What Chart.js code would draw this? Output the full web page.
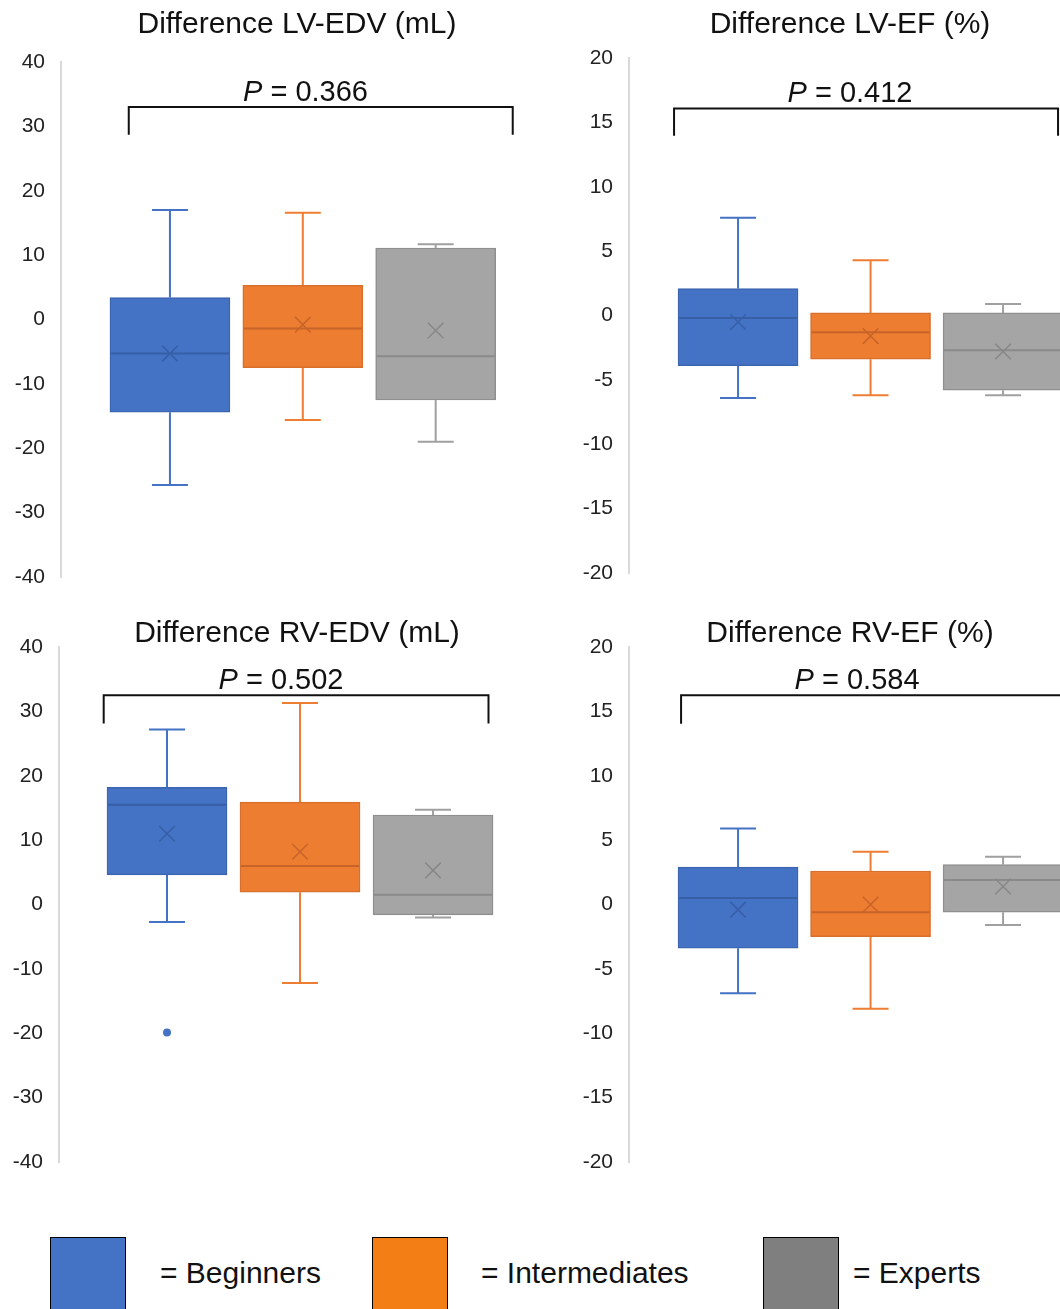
<!DOCTYPE html>
<html>
<head>
<meta charset="utf-8">
<script src="https://cdn.jsdelivr.net/npm/chart.js@4.4.1/dist/chart.umd.min.js"></script>
<style>
  html, body { margin: 0; padding: 0; background: #fff; overflow: hidden; }
  #page { position: relative; width: 1060px; height: 1309px; overflow: hidden; font-family: 'Liberation Sans', Arial, sans-serif; }
  #page canvas { position: absolute; }
  .key { position: absolute; top: 1237px; width: 74px; height: 90px; border: 1.5px solid #000; }
  .keyText { position: absolute; top: 1254px; font-size: 30px; line-height: 38px; color: #111; white-space: nowrap; }
</style>
</head>
<body>
<div id="page">
  <canvas id="lvEdv" width="530" height="607" style="left:0;top:0"></canvas>
  <canvas id="lvEf" width="600" height="603" style="left:530px;top:0"></canvas>
  <canvas id="rvEdv" width="530" height="607" style="left:0;top:585px"></canvas>
  <canvas id="rvEf" width="600" height="607" style="left:530px;top:585px"></canvas>

  <div class="key" style="left:50px;background:#4472C4"></div>
  <div class="keyText" style="left:160px">= Beginners</div>
  <div class="key" style="left:372px;background:#F37E16"></div>
  <div class="keyText" style="left:481px">= Intermediates</div>
  <div class="key" style="left:763px;background:#7F7F7F"></div>
  <div class="keyText" style="left:853px">= Experts</div>
</div>
<script>
const FONT = "'Liberation Sans', Arial, sans-serif"

// groups, drawn at x = 1, 2, 3
const groups = ['Beginners', 'Intermediates', 'Experts']
const groupX = [1, 2, 3]

// colours per group
const boxFill = ['#4472C4', '#ED7D31', '#A5A5A5']
const boxBorder = ['#3B65B0', '#D86F2B', '#8F8F8F']
const whiskerColor = ['#4472C4', '#ED7D31', '#A0A0A0']
const medianColor = ['#365FA6', '#C8642A', '#8A8A8A']
const meanColor = ['#365FA6', '#C8642A', '#878787']

// tick labels
const edvTicks = [-40, -30, -20, -10, 0, 10, 20, 30, 40]
const efTicks = [-20, -15, -10, -5, 0, 5, 10, 15, 20]

// Difference LV-EDV (mL)
const lvEdvMin = [-25.7, -15.6, -19.0]
const lvEdvQ1 = [-14.4, -7.5, -12.5]
const lvEdvMedian = [-5.3, -1.4, -5.7]
const lvEdvQ3 = [3.4, 5.3, 11.1]
const lvEdvMax = [17.0, 16.6, 11.7]
const lvEdvMean = [-5.3, -0.8, -1.7]

// Difference LV-EF (%)
const lvEfMin = [-6.4, -6.2, -6.2]
const lvEfQ1 = [-3.9, -3.4, -5.8]
const lvEfMedian = [-0.2, -1.3, -2.7]
const lvEfQ3 = [2.1, 0.2, 0.2]
const lvEfMax = [7.6, 4.3, 0.9]
const lvEfMean = [-0.5, -1.6, -2.8]

// Difference RV-EDV (mL)
const rvEdvMin = [-2.7, -12.2, -2.0]
const rvEdvQ1 = [4.6, 1.9, -1.6]
const rvEdvMedian = [15.5, 6.0, 1.5]
const rvEdvQ3 = [18.2, 15.9, 13.9]
const rvEdvMax = [27.2, 31.3, 14.7]
const rvEdvMean = [11.0, 8.2, 5.3]
const rvEdvOutlierGroup = [1]
const rvEdvOutlierValue = [-19.9]

// Difference RV-EF (%)
const rvEfMin = [-6.9, -8.1, -1.6]
const rvEfQ1 = [-3.4, -2.5, -0.6]
const rvEfMedian = [0.5, -0.6, 1.9]
const rvEfQ3 = [2.9, 2.6, 3.1]
const rvEfMax = [5.9, 4.1, 3.7]
const rvEfMean = [-0.4, 0.0, 1.4]

// extra drawing: whiskers, title, P value and bracket
function makeExtras(panel) {
  return {
    id: 'extras',
    beforeDatasetsDraw(chart) {
      const ctx = chart.ctx
      const x = chart.scales.x
      const y = chart.scales.y
      ctx.save()
      ctx.lineWidth = 2
      groupX.forEach((gx, i) => {
        const px = x.getPixelForValue(gx)
        ctx.strokeStyle = whiskerColor[i]
        ctx.beginPath()
        ctx.moveTo(px, y.getPixelForValue(panel.min[i]))
        ctx.lineTo(px, y.getPixelForValue(panel.q1[i]))
        ctx.moveTo(px, y.getPixelForValue(panel.q3[i]))
        ctx.lineTo(px, y.getPixelForValue(panel.max[i]))
        // caps
        ctx.moveTo(px - 18, y.getPixelForValue(panel.min[i]))
        ctx.lineTo(px + 18, y.getPixelForValue(panel.min[i]))
        ctx.moveTo(px - 18, y.getPixelForValue(panel.max[i]))
        ctx.lineTo(px + 18, y.getPixelForValue(panel.max[i]))
        ctx.stroke()
      })
      ctx.restore()
    },
    afterDraw(chart) {
      const ctx = chart.ctx
      const x = chart.scales.x
      const y = chart.scales.y
      ctx.save()
      ctx.fillStyle = '#111'
      ctx.textBaseline = 'alphabetic'

      // title
      ctx.font = '30px ' + FONT
      ctx.textAlign = 'center'
      ctx.fillText(panel.title, panel.titleX, panel.titleY)

      // P value
      ctx.textAlign = 'left'
      ctx.font = 'italic 29px ' + FONT
      const wP = ctx.measureText('P').width
      ctx.font = '29px ' + FONT
      const rest = ' = ' + panel.p
      const wRest = ctx.measureText(rest).width
      const left = x.getPixelForValue(panel.pX) - (wP + wRest) / 2
      const base = y.getPixelForValue(panel.pY)
      ctx.font = 'italic 29px ' + FONT
      ctx.fillText('P', left, base)
      ctx.font = '29px ' + FONT
      ctx.fillText(rest, left + wP, base)

      // bracket
      const b = panel.bracket
      ctx.strokeStyle = '#111'
      ctx.lineWidth = 2
      ctx.beginPath()
      ctx.moveTo(x.getPixelForValue(b[0]), y.getPixelForValue(b[3]))
      ctx.lineTo(x.getPixelForValue(b[0]), y.getPixelForValue(b[2]))
      ctx.lineTo(x.getPixelForValue(b[1]), y.getPixelForValue(b[2]))
      ctx.lineTo(x.getPixelForValue(b[1]), y.getPixelForValue(b[3]))
      ctx.stroke()
      ctx.restore()
    }
  }
}

function makeChart(id, panel) {
  const datasets = [
    {
      type: 'bar',
      data: groupX.map((gx, i) => ({ x: gx, y: [panel.q1[i], panel.q3[i]] })),
      backgroundColor: boxFill,
      borderColor: boxBorder,
      borderWidth: 1.5,
      borderSkipped: false,
      barThickness: 120,
      order: 3
    },
    {
      type: 'scatter',
      data: groupX.map((gx, i) => ({ x: gx, y: panel.median[i] })),
      pointStyle: 'line',
      pointRadius: 59,
      borderColor: medianColor,
      borderWidth: 2,
      order: 2
    },
    {
      type: 'scatter',
      data: groupX.map((gx, i) => ({ x: gx, y: panel.mean[i] })),
      pointStyle: 'crossRot',
      pointRadius: 11,
      borderColor: meanColor,
      borderWidth: 1.5,
      order: 1
    }
  ]
  if (panel.outGroup) {
    datasets.push({
      type: 'scatter',
      data: panel.outGroup.map((g, i) => ({ x: g, y: panel.outValue[i] })),
      pointStyle: 'circle',
      pointRadius: 4,
      backgroundColor: boxFill[0],
      borderColor: boxFill[0],
      borderWidth: 0,
      order: 1
    })
  }

  return new Chart(document.getElementById(id), {
    type: 'bar',
    data: { datasets: datasets },
    options: {
      responsive: false,
      animation: false,
      layout: { autoPadding: false, padding: { top: panel.padTop, bottom: 30, left: 0, right: 0 } },
      plugins: { legend: { display: false }, tooltip: { enabled: false } },
      scales: {
        x: {
          type: 'linear', min: panel.xMin, max: panel.xMax, offset: false, display: false,
          ticks: { display: false }, grid: { display: false, drawTicks: false }
        },
        y: {
          type: 'linear',
          min: panel.ticks[0],
          max: panel.ticks[panel.ticks.length - 1],
          offset: false,
          afterBuildTicks: s => { s.ticks = panel.ticks.map(v => ({ value: v })) },
          afterFit: s => { s.width = panel.axisWidth },
          grid: { display: false, drawTicks: false },
          border: { display: true, color: '#D9D9D9', width: 2 },
          ticks: { padding: 16, color: '#222', font: { size: 21, family: FONT } }
        }
      }
    },
    plugins: [makeExtras(panel)]
  })
}

makeChart('lvEdv', {
  title: 'Difference LV-EDV (mL)', titleX: 297, titleY: 33,
  p: '0.366', pX: 2.02, pY: 34.0, bracket: [0.69, 3.58, 33.0, 28.7],
  min: lvEdvMin, q1: lvEdvQ1, median: lvEdvMedian, q3: lvEdvQ3, max: lvEdvMax, mean: lvEdvMean,
  ticks: edvTicks, axisWidth: 61, xMin: 0.18, xMax: 3.71, padTop: 62
})

makeChart('lvEf', {
  title: 'Difference LV-EF (%)', titleX: 320, titleY: 33,
  p: '0.412', pX: 1.845, pY: 16.6, bracket: [0.517, 3.415, 16.07, 13.96],
  min: lvEfMin, q1: lvEfQ1, median: lvEfMedian, q3: lvEfQ3, max: lvEfMax, mean: lvEfMean,
  ticks: efTicks, axisWidth: 99, xMin: 0.177, xMax: 3.958, padTop: 58
})

makeChart('rvEdv', {
  title: 'Difference RV-EDV (mL)', titleX: 297, titleY: 57,
  p: '0.502', pX: 1.857, pY: 33.5, bracket: [0.524, 3.417, 32.5, 28.1],
  min: rvEdvMin, q1: rvEdvQ1, median: rvEdvMedian, q3: rvEdvQ3, max: rvEdvMax, mean: rvEdvMean,
  outGroup: rvEdvOutlierGroup, outValue: rvEdvOutlierValue,
  ticks: edvTicks, axisWidth: 59, xMin: 0.188, xMax: 3.729, padTop: 62
})

makeChart('rvEf', {
  title: 'Difference RV-EF (%)', titleX: 320, titleY: 57,
  p: '0.584', pX: 1.898, pY: 16.76, bracket: [0.57, 3.47, 16.26, 14.04],
  min: rvEfMin, q1: rvEfQ1, median: rvEfMedian, q3: rvEfQ3, max: rvEfMax, mean: rvEfMean,
  ticks: efTicks, axisWidth: 99, xMin: 0.177, xMax: 3.958, padTop: 62
})
</script>
</body>
</html>
